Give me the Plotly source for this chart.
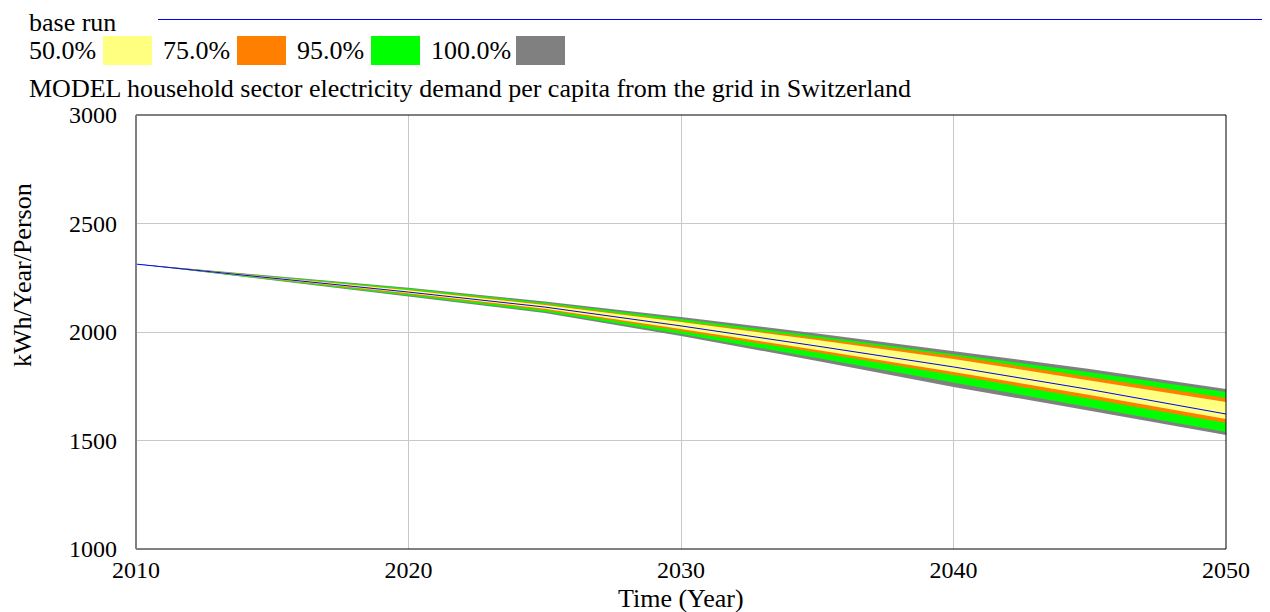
import plotly.graph_objects as go

years = [2010, 2015, 2020, 2025, 2030, 2035, 2040, 2045, 2050]
base_run = [2313, 2250, 2184, 2115, 2028, 1935, 1839, 1735, 1622]
p100_hi = [2313, 2260, 2204, 2140, 2069, 1993, 1913, 1830, 1737]
p95_hi = [2313, 2258, 2200, 2135, 2060, 1981, 1899, 1815, 1723]
p75_hi = [2313, 2255, 2195, 2129, 2051, 1972, 1890, 1792, 1696]
p50_hi = [2313, 2254, 2192, 2125, 2046, 1963, 1876, 1777, 1677]
p50_lo = [2313, 2247, 2178, 2107, 2014, 1917, 1816, 1710, 1599]
p75_lo = [2313, 2245, 2174, 2101, 2005, 1905, 1802, 1692, 1581]
p95_lo = [2313, 2242, 2168, 2093, 1991, 1880, 1765, 1653, 1539]
p100_lo = [2313, 2240, 2164, 2087, 1982, 1866, 1747, 1637, 1525]

band_labels = ["50.0%", "75.0%", "95.0%", "100.0%"]
band_colors = ["#FFFF80", "#FF8000", "#00FF00", "#808080"]
bands = [(p50_hi, p50_lo), (p75_hi, p75_lo), (p95_hi, p95_lo), (p100_hi, p100_lo)]

title_text = "MODEL household sector electricity demand per capita from the grid in Switzerland"
x_title = "Time (Year)"
y_title = "kWh/Year/Person"
x_ticks = [2010, 2020, 2030, 2040, 2050]
y_ticks = [1000, 1500, 2000, 2500, 3000]

FONT = "Liberation Serif, Times New Roman, serif"
OFF = 8  # browser body margin
W, H = 1270 - OFF, 612 - OFF
L, R, T, B = 136, 1226, 115, 549  # page pixel positions of plot area

fig = go.Figure()
for (hi, lo), col in reversed(list(zip(bands, band_colors))):
    fig.add_trace(go.Scatter(x=years, y=hi, mode="lines", line=dict(width=0, color=col),
                             showlegend=False, hoverinfo="skip"))
    fig.add_trace(go.Scatter(x=years, y=lo, mode="lines", line=dict(width=0, color=col),
                             fill="tonexty", fillcolor=col, showlegend=False, hoverinfo="skip"))
fig.add_trace(go.Scatter(x=years, y=base_run, mode="lines", line=dict(width=1, color="#0000FF"),
                         showlegend=False))

def px(x):
    return (x - L) / (R - L)

def py(y):
    return (B - y) / (B - T)

shapes = []
annotations = []
shapes.append(dict(type="rect", xref="paper", yref="paper", x0=0, x1=1, y0=0, y1=1,
                   line=dict(color="black", width=1), layer="above"))
shapes.append(dict(type="line", xref="paper", yref="paper", x0=0, x1=0, y0=0, y1=1,
                   line=dict(color="#808080", width=2), layer="above"))
TXT = dict(family=FONT, size=26, color="black")
annotations.append(dict(text="base run", xref="paper", yref="paper", x=px(27), y=py(22),
                        xanchor="left", yanchor="middle", showarrow=False, font=TXT))
shapes.append(dict(type="line", xref="paper", yref="paper", x0=px(158), x1=px(1266),
                   y0=py(19.5), y1=py(19.5), line=dict(color="#0000FF", width=1.2)))
label_x = [27, 161, 295, 429]
box_x = [103, 237, 371, 516]
for lab, col, lx, bx in zip(band_labels, band_colors, label_x, box_x):
    annotations.append(dict(text=lab, xref="paper", yref="paper", x=px(lx), y=py(51),
                            xanchor="left", yanchor="middle", showarrow=False, font=TXT))
    shapes.append(dict(type="rect", xref="paper", yref="paper", x0=px(bx), x1=px(bx + 49),
                       y0=py(65), y1=py(36), fillcolor=col, line=dict(width=0)))
annotations.append(dict(text=title_text, xref="paper", yref="paper", x=px(27), y=py(88),
                        xanchor="left", yanchor="middle", showarrow=False, font=TXT))
annotations.append(dict(text=x_title, xref="paper", yref="paper", x=px(681), y=py(598),
                        xanchor="center", yanchor="middle", showarrow=False, font=TXT))
annotations.append(dict(text=y_title, xref="paper", yref="paper", x=px(22), y=py(275),
                        xanchor="center", yanchor="middle", showarrow=False, textangle=-90,
                        font=TXT))

fig.update_layout(
    width=W, height=H,
    margin=dict(l=L - OFF, r=W - (R - OFF), t=T - OFF, b=H - (B - OFF), pad=0),
    paper_bgcolor="white", plot_bgcolor="white",
    font=dict(family=FONT, size=24, color="black"),
    shapes=shapes, annotations=annotations,
    xaxis=dict(range=[2010, 2050], tickvals=x_ticks, showgrid=True, gridcolor="#C8C8C8",
               gridwidth=1, zeroline=False, showline=False, ticks="", ticklabelstandoff=4,
               tickfont=dict(family=FONT, size=24)),
    yaxis=dict(range=[1000, 3000], tickvals=y_ticks, showgrid=True, gridcolor="#C8C8C8",
               gridwidth=1, zeroline=False, showline=False, ticks="", ticklabelstandoff=18,
               tickfont=dict(family=FONT, size=24)),
)

fig.write_html("out.html")
